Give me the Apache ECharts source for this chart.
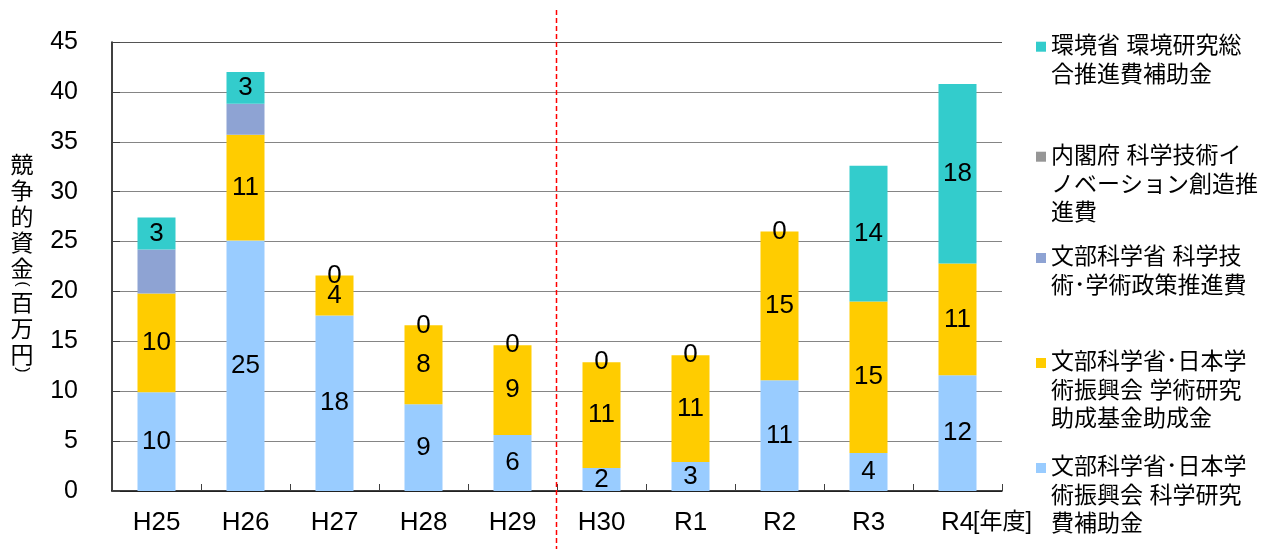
<!DOCTYPE html>
<html>
<head>
<meta charset="utf-8">
<script src="https://cdn.jsdelivr.net/npm/echarts@6/dist/echarts.min.js"></script>
<style>
  html, body { margin: 0; padding: 0; background: #fff; }
  #chart { width: 1265px; height: 549px; }
</style>
</head>
<body>
<div id="chart"></div>
<script>
// 年度
const years = ['H25', 'H26', 'H27', 'H28', 'H29', 'H30', 'R1', 'R2', 'R3', 'R4'];

// 競争的資金（百万円）— 区分別
const kakenhi   = [9.9, 25.1, 17.6, 8.7, 5.6, 2.3, 2.9, 11.1, 3.8, 11.6];   // 科学研究費補助金
const kikin     = [9.9, 10.6, 4.0, 7.9, 9.0, 10.6, 10.7, 14.9, 15.2, 11.2];  // 学術研究助成基金助成金
const seisaku   = [4.4, 3.1, 0, 0, 0, 0, 0, 0, 0, 0];                         // 科学技術･学術政策推進費
const naikakufu = [0, 0, 0, 0, 0, 0, 0, 0, 0, 0];                             // 科学技術イノベーション創造推進費
const kankyo    = [3.2, 3.2, 0, 0, 0, 0, 0, 0, 13.6, 18.0];                   // 環境研究総合推進費補助金

// 縦軸目盛
const yMin = 0, yMax = 45, yStep = 5;

// 系列名と凡例の改行位置
const names = [
  '文部科学省･日本学術振興会 科学研究費補助金',
  '文部科学省･日本学術振興会 学術研究助成基金助成金',
  '文部科学省 科学技術･学術政策推進費',
  '内閣府 科学技術イノベーション創造推進費',
  '環境省 環境研究総合推進費補助金'
];
const legendLines = [
  ['文部科学省･日本学', '術振興会 科学研究', '費補助金'],
  ['文部科学省･日本学', '術振興会 学術研究', '助成基金助成金'],
  ['文部科学省 科学技', '術･学術政策推進費'],
  ['内閣府 科学技術イ', 'ノベーション創造推', '進費'],
  ['環境省 環境研究総', '合推進費補助金']
];
const colors = ['#99CCFF', '#FFCC00', '#8EA3D3', '#969696', '#33CCCC'];
const values = [kakenhi, kikin, seisaku, naikakufu, kankyo];
const labelled = [true, true, false, false, true];

// 縦軸タイトル（縦書き）
const yTitleChars = ['競', '争', '的', '資', '金', '(', '百', '万', '円', ')'];

const FONT = "'Liberation Sans', 'Noto Sans CJK JP', sans-serif";

// 凡例: 各項目の1行目の中心y
const legendFirstLineY = [468, 363, 258, 156.7, 46.7];
const LEG_LH = 28.5;

const legends = names.map((nm, i) => {
  const n = legendLines[i].length;
  // 先頭に空行を入れてマーカーを1行目に揃える
  const text = new Array(n - 1).fill('').concat(legendLines[i]).join('\n');
  return {
    data: [nm],
    left: 1036,
    top: legendFirstLineY[i] - (2 * n - 1) * LEG_LH / 2,
    padding: 0,
    icon: 'rect',
    itemWidth: 10,
    itemHeight: 10,
    selectedMode: false,
    formatter: () => text,
    textStyle: { fontFamily: FONT, fontSize: 23, lineHeight: LEG_LH, color: '#000' }
  };
});

const series = names.map((nm, i) => ({
  name: nm,
  type: 'bar',
  stack: 'total',
  barWidth: 38,
  data: values[i],
  itemStyle: { color: colors[i] },
  label: {
    show: labelled[i],
    position: 'inside',
    fontFamily: FONT,
    fontSize: 26,
    color: '#000',
    formatter: p => String(Math.round(p.value))
  },
  emphasis: { disabled: true }
}));

// 縦書きタイトルの配置（文字は26px送り、括弧は横倒し）
function verticalTitle(cx, yStart) {
  const items = [];
  let y = yStart;
  yTitleChars.forEach((ch, i) => {
    const paren = ch === '(' || ch === ')';
    if (i > 0) {
      const prevParen = yTitleChars[i - 1] === '(' || yTitleChars[i - 1] === ')';
      y += paren ? 16 : (prevParen ? 18 : 26);
    }
    items.push({
      type: 'text',
      x: cx,
      y: y,
      rotation: paren ? -Math.PI / 2 : 0,
      style: {
        text: ch,
        font: paren ? "16px 'Liberation Sans', sans-serif" : "23px 'Noto Sans CJK JP', sans-serif",
        fill: '#000',
        align: 'center',
        verticalAlign: 'middle'
      },
      silent: true
    });
  });
  return items;
}

// 目盛線の色（最上段のみ濃い）
const gridCount = (yMax - yMin) / yStep + 1;
const gridColors = Array.from({ length: gridCount }, (_, i) => i === gridCount - 1 ? '#555555' : '#858585');

const chart = echarts.init(document.getElementById('chart'));
chart.setOption({
  animation: false,
  backgroundColor: '#fff',
  grid: { left: 112, right: 263, top: 42, bottom: 58, containLabel: false, outerBoundsMode: 'none' },
  legend: legends,
  xAxis: {
    type: 'category',
    data: years,
    name: '[年度]',
    nameLocation: 'end',
    nameGap: -29,
    nameMoveOverlap: false,
    nameTextStyle: { fontFamily: FONT, fontSize: 23, color: '#000', align: 'left', verticalAlign: 'top', lineHeight: 64 },
    axisLine: { lineStyle: { color: '#000', width: 1.5 } },
    axisTick: { show: true, inside: true, length: 7, lineStyle: { color: '#404040' } },
    axisLabel: { fontFamily: FONT, fontSize: 26, color: '#000', margin: 19 }
  },
  yAxis: {
    type: 'value',
    min: yMin,
    max: yMax,
    interval: yStep,
    axisLine: { show: true, lineStyle: { color: '#000', width: 1.5 } },
    axisTick: { show: true, inside: true, length: 8, lineStyle: { color: '#404040' } },
    axisLabel: { fontFamily: FONT, fontSize: 25, color: '#000', margin: 34 },
    splitLine: { lineStyle: { color: gridColors, width: 1 } }
  },
  series: series
});

// H29 と H30 の境界に区切り線
const xa = chart.convertToPixel({ xAxisIndex: 0 }, 'H29');
const xb = chart.convertToPixel({ xAxisIndex: 0 }, 'H30');
const xm = Math.round((xa + xb) / 2) - 0.5;
chart.setOption({
  graphic: [{
    type: 'line',
    shape: { x1: xm, y1: 10, x2: xm, y2: 549 },
    style: { stroke: '#FF0000', lineWidth: 1.5, lineDash: [5, 3] },
    silent: true,
    z: 100
  }].concat(verticalTitle(22, 164))
});
</script>
</body>
</html>
